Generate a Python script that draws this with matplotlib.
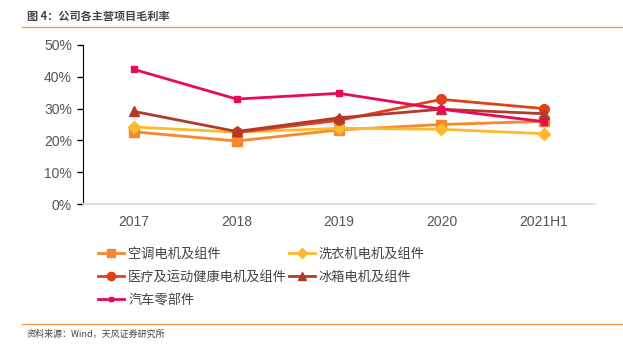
import numpy as np
import matplotlib
matplotlib.use("Agg")
import matplotlib.pyplot as plt
from matplotlib.lines import Line2D

plt.rcParams['font.family'] = ['Noto Sans CJK SC', 'DejaVu Sans']

# data (gross margin, %)
years = ['2017', '2018', '2019', '2020', '2021H1']
aircon = [22.7, 19.8, 23.3, 25.0, 26.0]
washer = [24.2, 22.6, 23.8, 23.5, 22.1]
medical = [np.nan, 22.5, 26.3, 32.9, 30.0]
fridge = [29.1, 22.8, 27.1, 29.8, 28.4]
auto = [42.3, 33.0, 34.8, 29.8, 25.9]

series = [
    ('空调电机及组件', aircon, '#F7892A', 's'),
    ('洗衣机电机及组件', washer, '#FDB92D', 'D'),
    ('医疗及运动健康电机及组件', medical, '#DF4219', 'o'),
    ('冰箱电机及组件', fridge, '#B23A2C', '^'),
    ('汽车零部件', auto, '#E8095A', '_'),
]

fig = plt.figure(figsize=(6.23, 3.47), dpi=100)
ax = fig.add_axes([83 / 623, 1 - 204 / 347, 512 / 623, 159 / 347])

x = np.arange(len(years))
handles = {}
for name, vals, col, mk in series:
    if mk == '_':
        h, = ax.plot(x, vals, color=col, lw=2, marker='s', markersize=4, label=name)
    else:
        ms = 6 if mk == 'D' else 7
        h, = ax.plot(x, vals, color=col, lw=2, marker=mk, markersize=ms, label=name)
    handles[name] = h

ax.set_xlim(-0.5, 4.5)
ax.set_ylim(0, 50)
ax.set_yticks(range(0, 51, 10))
ax.set_yticklabels([f'{v}%' for v in range(0, 51, 10)], family=['Liberation Sans', 'DejaVu Sans'])
ax.set_xticks(x)
ax.set_xticklabels(years, family=['Liberation Sans', 'DejaVu Sans'])
ax.tick_params(axis='x', length=0, pad=8, labelsize=10, labelcolor='#555555')
ax.tick_params(axis='y', length=4, width=1, direction='out', pad=4, labelsize=10, labelcolor='#555555')
for s in ['top', 'right']:
    ax.spines[s].set_visible(False)
ax.spines['left'].set_color('black')
ax.spines['bottom'].set_color('#d9d9d9')
ax.spines['bottom'].set_linewidth(1.2)

order = ['空调电机及组件', '医疗及运动健康电机及组件', '汽车零部件', '洗衣机电机及组件', '冰箱电机及组件']
fig.legend([handles[n] for n in order], order, ncol=2, loc='upper left',
           bbox_to_anchor=(86 / 623, 1 - 236 / 347), frameon=False, fontsize=9.5,
           handlelength=2.0, handletextpad=0.3, columnspacing=0.1, labelspacing=0.75,
           labelcolor='#444444', markerscale=0.85)

# title and source with rules
fig.text(27 / 623, 1 - 16 / 347, '图 4：公司各主营项目毛利率', fontsize=8, fontweight='bold',
         color='#444444', va='center')
fig.add_artist(Line2D([22 / 623, 1], [1 - 27 / 347] * 2, color='#E39A5A', lw=1))
fig.add_artist(Line2D([22 / 623, 1], [1 - 324 / 347] * 2, color='#F39A4A', lw=1))
fig.text(27 / 623, 1 - 334 / 347, '资料来源：Wind，天风证券研究所', fontsize=6.5,
         color='#444444', va='center')

fig.savefig('out.png', dpi=100)
